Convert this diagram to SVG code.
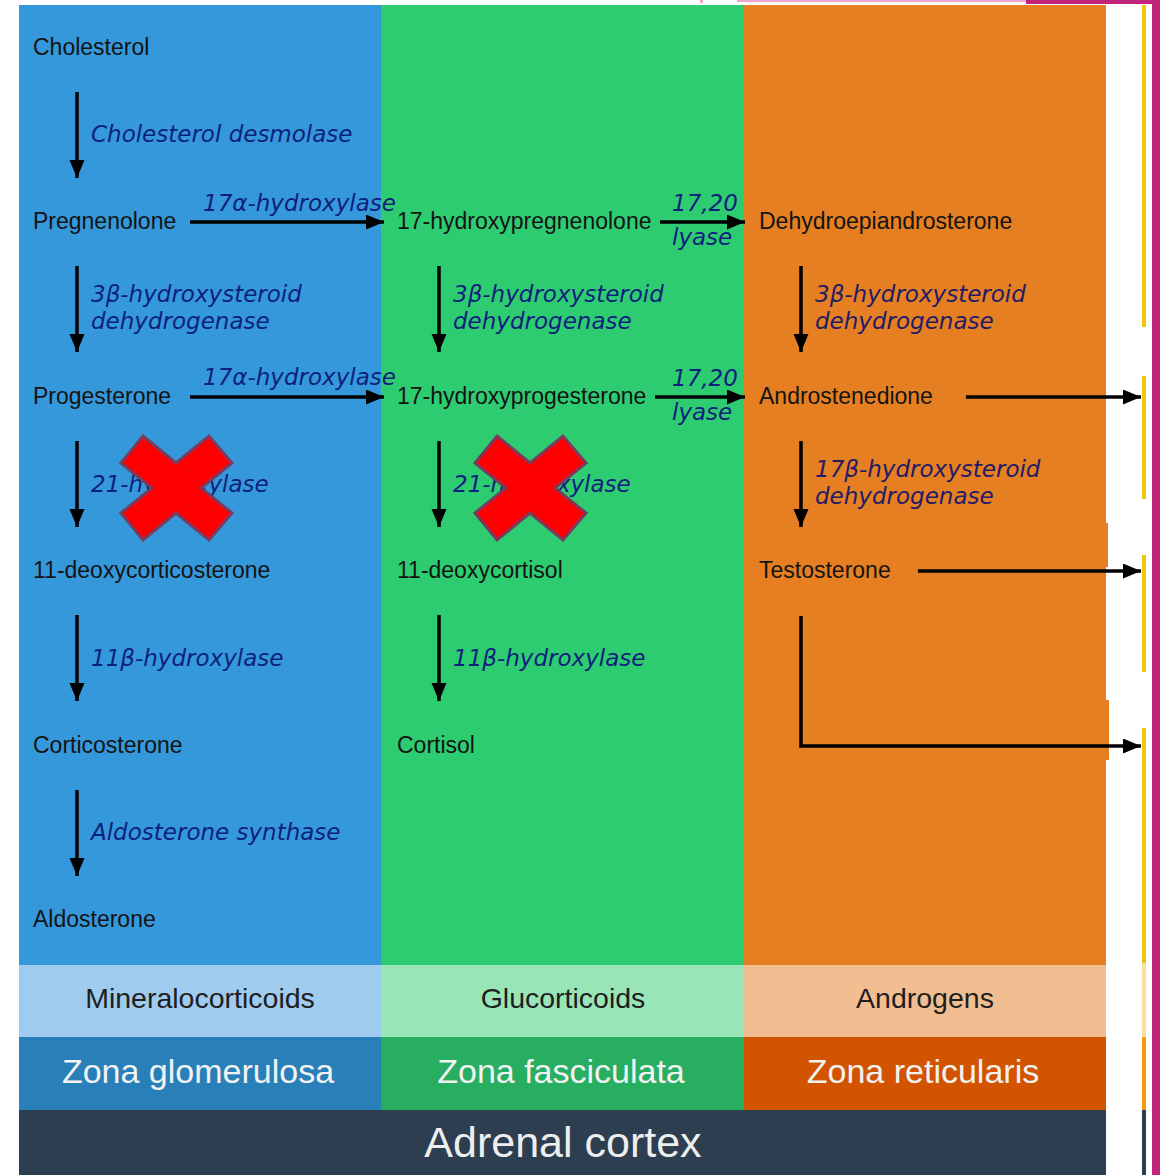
<svg xmlns="http://www.w3.org/2000/svg" width="1160" height="1175" viewBox="0 0 1160 1175">
<defs>
<marker id="ah" markerUnits="userSpaceOnUse" markerWidth="20" markerHeight="16" refX="18" refY="7.5" orient="auto">
<path d="M0,0 L18,7.5 L0,15 Z" fill="#000"/>
</marker>
<style>
.node{font-family:"Liberation Sans",Arial,sans-serif;font-size:23px;fill:#141414}
.enz{font-family:"DejaVu Sans",sans-serif;font-style:italic;font-size:23px;fill:#0e1f7c}
.band{font-family:"Liberation Sans",Arial,sans-serif;font-size:28.5px;fill:#1e1e1e;text-anchor:middle}
.zone{font-family:"Liberation Sans",Arial,sans-serif;font-size:34px;fill:#f2f2f2;text-anchor:middle}
.arr{stroke:#000;stroke-width:3.5;fill:none;marker-end:url(#ah)}
.cross{fill:#ff0000;stroke:#7a3b5e;stroke-width:3;stroke-linejoin:miter}
</style>
</defs>
<rect width="1160" height="1175" fill="#fff"/>
<!-- page frame artifacts -->
<rect x="737" y="0" width="289" height="2" fill="#f2a3cb"/>
<rect x="1026" y="0" width="134" height="4" fill="#c2237b"/>
<rect x="1152" y="0" width="8" height="1175" fill="#c2237b"/>
<rect x="700" y="0" width="3" height="3" fill="#f2a3cb"/>
<g id="rightstrip">
<rect x="1142" y="5" width="4" height="322" fill="#f1c40f"/>
<rect x="1142" y="376" width="4" height="123" fill="#f1c40f"/>
<rect x="1142" y="555" width="4" height="117" fill="#f1c40f"/>
<rect x="1142" y="728" width="4" height="235" fill="#f1c40f"/>
<rect x="1142" y="963" width="4" height="74" fill="#f8e0a0"/>
<rect x="1142" y="1037" width="4" height="73" fill="#f39c12"/>
<rect x="1142" y="1110" width="4" height="65" fill="#2c3e50"/>
</g>
<!-- columns -->
<g id="columns">
<rect x="19" y="5" width="362" height="960" fill="#3498db"/>
<rect x="381" y="5" width="363" height="960" fill="#2ecc71"/>
<rect x="744" y="5" width="362" height="960" fill="#e67e22"/>
<rect x="1106" y="523" width="2" height="44" fill="#e67e22"/>
<rect x="1106" y="700" width="3" height="60" fill="#e67e22"/>
</g>
<g id="bands">
<rect x="19" y="965" width="362" height="72" fill="#9ecbee"/>
<rect x="381" y="965" width="363" height="72" fill="#98e6b8"/>
<rect x="744" y="965" width="362" height="72" fill="#f2be91"/>
<rect x="19" y="1037" width="362" height="73" fill="#2980b9"/>
<rect x="381" y="1037" width="363" height="73" fill="#27ae60"/>
<rect x="744" y="1037" width="362" height="73" fill="#d35400"/>
<rect x="19" y="1110" width="1087" height="65" fill="#2c3e50"/>
<text class="band" x="200" y="1008">Mineralocorticoids</text>
<text class="band" x="563" y="1008">Glucorticoids</text>
<text class="band" x="925" y="1008">Androgens</text>
<text class="zone" x="198" y="1083">Zona glomerulosa</text>
<text class="zone" x="561" y="1083">Zona fasciculata</text>
<text class="zone" x="923" y="1083">Zona reticularis</text>
<text x="563" y="1157" text-anchor="middle" style="font-family:'Liberation Sans',Arial,sans-serif;font-size:43px;fill:#eeeeee">Adrenal cortex</text>
</g>
<!-- connectors -->
<g id="connectors">
<line class="arr" x1="77" y1="92" x2="77" y2="178"/>
<line class="arr" x1="77" y1="266" x2="77" y2="352"/>
<line class="arr" x1="77" y1="441" x2="77" y2="527"/>
<line class="arr" x1="77" y1="615" x2="77" y2="701"/>
<line class="arr" x1="77" y1="790" x2="77" y2="876"/>
<line class="arr" x1="439" y1="266" x2="439" y2="352"/>
<line class="arr" x1="439" y1="441" x2="439" y2="527"/>
<line class="arr" x1="439" y1="615" x2="439" y2="701"/>
<line class="arr" x1="801" y1="266" x2="801" y2="352"/>
<line class="arr" x1="801" y1="441" x2="801" y2="527"/>
<line class="arr" x1="190" y1="222" x2="384" y2="222"/>
<line class="arr" x1="190" y1="397" x2="384" y2="397"/>
<line class="arr" x1="660" y1="222" x2="745" y2="222"/>
<line class="arr" x1="655" y1="397" x2="745" y2="397"/>
<line class="arr" x1="966" y1="397" x2="1141" y2="397"/>
<line class="arr" x1="918" y1="571" x2="1141" y2="571"/>
<polyline class="arr" points="801,616 801,746 1141,746"/>
</g>
<!-- enzyme labels -->
<g id="enzymes">
<text class="enz" x="91" y="142">Cholesterol desmolase</text>
<text class="enz" x="91" y="302">3β-hydroxysteroid</text>
<text class="enz" x="91" y="329">dehydrogenase</text>
<text class="enz" x="91" y="492">21-hydroxylase</text>
<text class="enz" x="91" y="666">11β-hydroxylase</text>
<text class="enz" x="91" y="840">Aldosterone synthase</text>
<text class="enz" x="453" y="302">3β-hydroxysteroid</text>
<text class="enz" x="453" y="329">dehydrogenase</text>
<text class="enz" x="453" y="492">21-hydroxylase</text>
<text class="enz" x="453" y="666">11β-hydroxylase</text>
<text class="enz" x="815" y="302" style="fill:#221c66">3β-hydroxysteroid</text>
<text class="enz" x="815" y="329" style="fill:#221c66">dehydrogenase</text>
<text class="enz" x="815" y="477" style="fill:#221c66">17β-hydroxysteroid</text>
<text class="enz" x="815" y="504" style="fill:#221c66">dehydrogenase</text>
<text class="enz" x="203" y="211">17α-hydroxylase</text>
<text class="enz" x="203" y="385">17α-hydroxylase</text>
<text class="enz" x="672" y="211">17,20</text>
<text class="enz" x="672" y="245">lyase</text>
<text class="enz" x="672" y="386">17,20</text>
<text class="enz" x="672" y="420">lyase</text>
</g>
<!-- nodes -->
<g id="n-cholesterol"><text class="node" x="33" y="55">Cholesterol</text></g>
<g id="n-pregnenolone"><text class="node" x="33" y="229">Pregnenolone</text></g>
<g id="n-progesterone"><text class="node" x="33" y="404">Progesterone</text></g>
<g id="n-11doc"><text class="node" x="33" y="578">11-deoxycorticosterone</text></g>
<g id="n-corticosterone"><text class="node" x="33" y="753">Corticosterone</text></g>
<g id="n-aldosterone"><text class="node" x="33" y="927">Aldosterone</text></g>
<g id="n-17ohpreg"><text class="node" x="397" y="229">17-hydroxypregnenolone</text></g>
<g id="n-17ohprog"><text class="node" x="397" y="404">17-hydroxyprogesterone</text></g>
<g id="n-11dcortisol"><text class="node" x="397" y="578">11-deoxycortisol</text></g>
<g id="n-cortisol"><text class="node" x="397" y="753">Cortisol</text></g>
<g id="n-dhea"><text class="node" x="759" y="229">Dehydroepiandrosterone</text></g>
<g id="n-androstenedione"><text class="node" x="759" y="404">Androstenedione</text></g>
<g id="n-testosterone"><text class="node" x="759" y="578">Testosterone</text></g>
<!-- crosses -->
<g id="cross1"><polygon class="cross" points="143,436 176,463 209,436 232,463 201,488 232,513 209,540 176,513 143,540 121,513 152,488 121,463"/></g>
<g id="cross2"><polygon class="cross" transform="translate(354,0)" points="143,436 176,463 209,436 232,463 201,488 232,513 209,540 176,513 143,540 121,513 152,488 121,463"/></g>
</svg>
